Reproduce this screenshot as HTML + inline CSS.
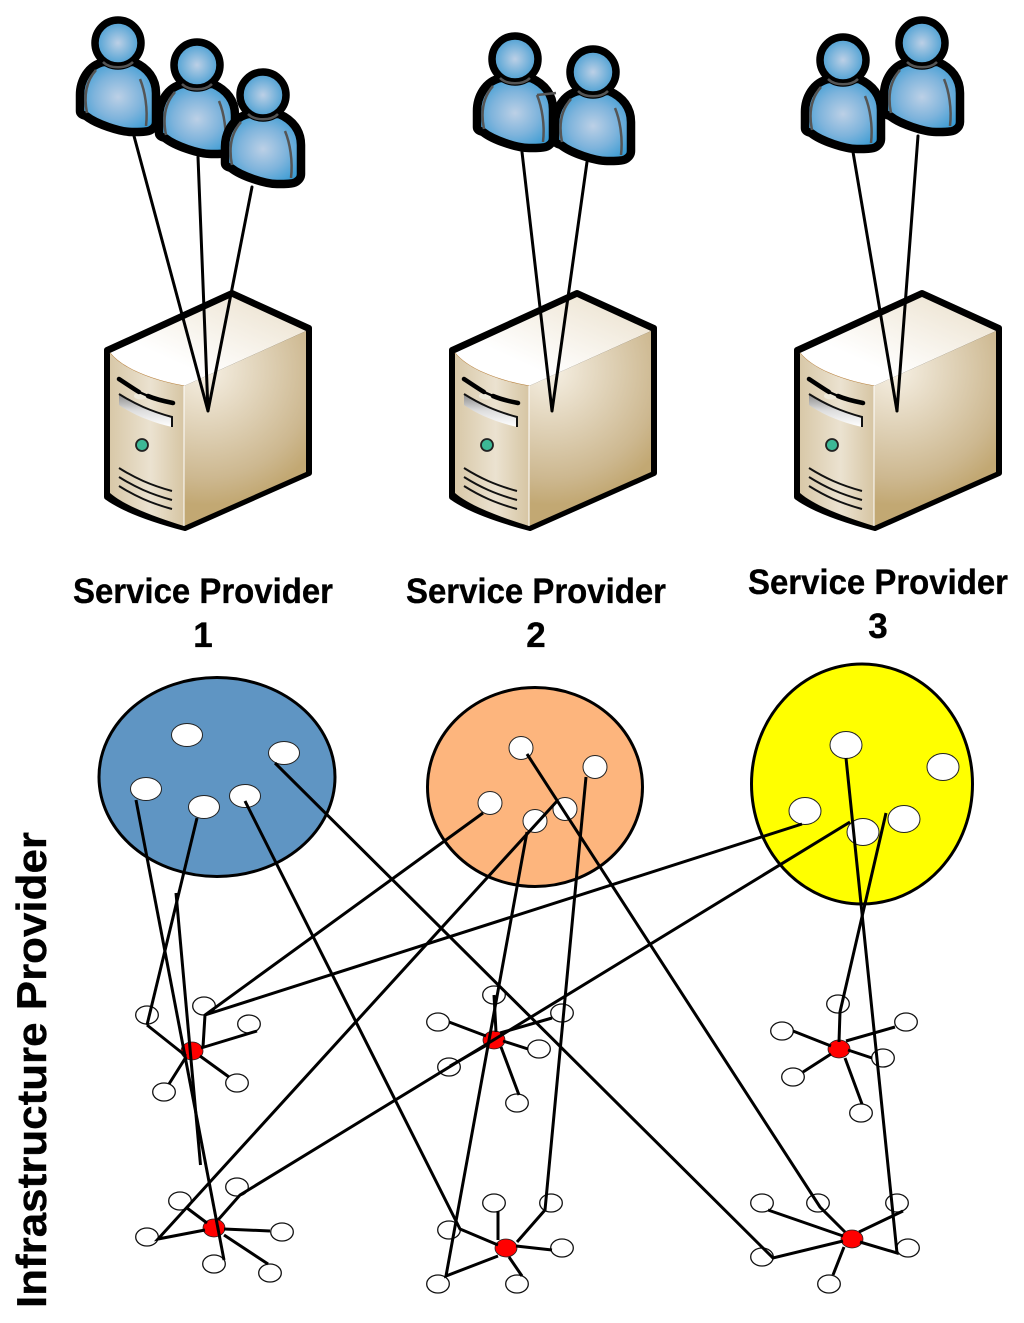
<!DOCTYPE html>
<html><head><meta charset="utf-8"><style>html,body{margin:0;padding:0;background:#fff}svg{display:block}text{font-family:"Liberation Sans",Arial,sans-serif;font-weight:bold;fill:#000;stroke:#000;stroke-width:0.35}</style></head>
<body>
<svg xmlns="http://www.w3.org/2000/svg" width="1024" height="1323" viewBox="0 0 1024 1323">
<defs>
<radialGradient id="ub" cx="0.5" cy="0.5" r="0.62"><stop offset="0" stop-color="#bcd0e6"/><stop offset="0.5" stop-color="#7fb4dc"/><stop offset="1" stop-color="#2d97d2"/></radialGradient>
<radialGradient id="uh" cx="0.5" cy="0.5" r="0.55"><stop offset="0" stop-color="#bcd0e6"/><stop offset="1" stop-color="#3a98d0"/></radialGradient>
<linearGradient id="top" x1="0" y1="1" x2="1" y2="0"><stop offset="0.3" stop-color="#ffffff"/><stop offset="1" stop-color="#eadfca"/></linearGradient>
<linearGradient id="front" x1="0" y1="0" x2="1" y2="0"><stop offset="0" stop-color="#d8c8a8"/><stop offset="0.55" stop-color="#ebe2d0"/><stop offset="1" stop-color="#d6c5a3"/></linearGradient>
<radialGradient id="right" gradientUnits="userSpaceOnUse" cx="205" cy="370" r="135"><stop offset="0" stop-color="#f6f0e4"/><stop offset="0.5" stop-color="#dccdb0"/><stop offset="0.8" stop-color="#cdb890"/><stop offset="1" stop-color="#c2a873"/></radialGradient>
<linearGradient id="bay" x1="0" y1="0" x2="0" y2="1"><stop offset="0" stop-color="#888"/><stop offset="0.5" stop-color="#ddd"/><stop offset="1" stop-color="#fff"/></linearGradient>
<g id="user">
<path d="M-14,19 C-30,22 -38,38 -38,52 L-38,68 C-38,72 -34,72 -32,73 C-22,81 2,89 14,89 C22,89 30,89 33,87 C36,85 38,83 38,79 L38,50 C38,36 30,25 16,19 Z" fill="url(#ub)" stroke="#000" stroke-width="8.5" stroke-linejoin="round"/>
<circle cx="0" cy="0" r="23" fill="url(#uh)" stroke="#000" stroke-width="7.5"/>
<path d="M-15,19 C-8,26 8,26 15,19" fill="none" stroke="#555" stroke-width="2.5"/>
<path d="M-22,27 C-30,36 -35,50 -31,70" fill="none" stroke="#555" stroke-width="2.5"/>
<path d="M22,36 C27,48 30,66 28,83" fill="none" stroke="#555" stroke-width="2.5"/>
</g>
<g id="server">
<path d="M107,350 L232,293 L309,328 L309,473 L185,528 C155,520 125,510 107,497 Z" fill="#000" stroke="#000" stroke-width="6" stroke-linejoin="round"/>
<path d="M110,353 L232,297 L306,331 L184,386 C150,380 122,368 110,353 Z" fill="url(#top)"/>
<path d="M110,353 C122,368 150,380 184,386" fill="none" stroke="#b8803c" stroke-width="1"/>
<path d="M110,353 C122,368 150,380 184,386 L184,526 C155,517 125,506 110,493 Z" fill="url(#front)"/>
<path d="M184,386 L306,331 L306,472 L184,526 Z" fill="url(#right)"/>
<path d="M184,386 L184,526" stroke="#fff" stroke-width="1"/>
<ellipse cx="141" cy="396" rx="7" ry="3.6" fill="#efeadb"/>
<path d="M119,379 C128,385 134,389 139,392 M148,396 C155,399 163,401 173,403" fill="none" stroke="#000" stroke-width="4.5" stroke-linecap="round"/>
<path d="M139,392 L148,396" stroke="#000" stroke-width="2.5"/>
<path d="M119,394 C135,404 150,411 172,417 L172,427 C150,422 132,414 119,405 Z" fill="url(#bay)"/>
<path d="M119,394 C135,404 150,411 172,417 L172,427" fill="none" stroke="#111" stroke-width="2"/>
<circle cx="142" cy="445" r="6" fill="#3cb896" stroke="#222" stroke-width="1.8"/>
<path d="M119,468 C135,478 150,485 172,491 M119,477 C135,487 150,494 172,500 M119,486 C135,496 150,503 172,509" fill="none" stroke="#111" stroke-width="2"/>
</g>
</defs>

<use href="#server"/>
<use href="#server" x="345"/>
<use href="#server" x="690"/>

<use href="#user" x="118" y="43"/>
<use href="#user" x="197" y="65"/>
<use href="#user" x="263" y="95"/>
<use href="#user" x="515" y="59"/>
<path d="M537,95 L556,93" stroke="#555" stroke-width="2.5"/>
<use href="#user" x="593" y="72"/>
<use href="#user" x="843" y="60"/>
<use href="#user" x="922" y="43"/>

<g stroke="#000" stroke-width="3" fill="none" stroke-linecap="round">
<path d="M134,136 L208,411 M198,157 L208,411 M252,187 L208,411"/>
<path d="M522,152 L552,411 M587,162 L552,411"/>
<path d="M853,152 L897,411 M918,136 L897,411"/>
</g>

<text x="73" y="603" font-size="35" textLength="260" lengthAdjust="spacingAndGlyphs">Service Provider</text>
<text x="203" y="647" font-size="35" text-anchor="middle">1</text>
<text x="406" y="603" font-size="35" textLength="260" lengthAdjust="spacingAndGlyphs">Service Provider</text>
<text x="536" y="647" font-size="35" text-anchor="middle">2</text>
<text x="748" y="594" font-size="35" textLength="260" lengthAdjust="spacingAndGlyphs">Service Provider</text>
<text x="878" y="638" font-size="35" text-anchor="middle">3</text>
<text transform="translate(46,1308) rotate(-90)" font-size="42" textLength="476" lengthAdjust="spacingAndGlyphs">Infrastructure Provider</text>

<g stroke="#000" stroke-width="3">
<ellipse cx="217" cy="777" rx="118" ry="99.5" fill="#5f95c3"/>
<ellipse cx="535" cy="787" rx="107.5" ry="99.5" fill="#fdb57d"/>
<ellipse cx="862" cy="784" rx="110.5" ry="120" fill="#ffff00"/>
</g>
<g fill="#fff" stroke="#222" stroke-width="1">
<ellipse cx="187" cy="735" rx="15.5" ry="11.5"/><ellipse cx="284" cy="753" rx="15.5" ry="11.5"/><ellipse cx="146" cy="789" rx="15.5" ry="11.5"/><ellipse cx="204" cy="807" rx="15.5" ry="11.5"/><ellipse cx="245" cy="796" rx="15.5" ry="11.5"/>
<ellipse cx="521" cy="748" rx="12" ry="11.5"/><ellipse cx="595" cy="767" rx="12" ry="11.5"/><ellipse cx="490" cy="803" rx="12" ry="11.5"/><ellipse cx="535" cy="821" rx="12" ry="11.5"/><ellipse cx="565" cy="809" rx="12" ry="11.5"/>
<ellipse cx="846" cy="745" rx="16" ry="13.5"/><ellipse cx="943" cy="767" rx="16" ry="13.5"/><ellipse cx="805" cy="811" rx="16" ry="13.5"/><ellipse cx="904" cy="819" rx="16" ry="13.5"/><ellipse cx="863" cy="832" rx="16" ry="13.5"/>
</g>

<g fill="#fff" stroke="#111" stroke-width="1.3">
<ellipse cx="147" cy="1015" rx="11.3" ry="9"/><ellipse cx="204" cy="1006" rx="11.3" ry="9"/><ellipse cx="249" cy="1024" rx="11.3" ry="9"/><ellipse cx="237" cy="1083" rx="11.3" ry="9"/><ellipse cx="164" cy="1092" rx="11.3" ry="9"/>
<ellipse cx="494" cy="995" rx="11.3" ry="9"/><ellipse cx="438" cy="1022" rx="11.3" ry="9"/><ellipse cx="562" cy="1013" rx="11.3" ry="9"/><ellipse cx="539" cy="1049" rx="11.3" ry="9"/><ellipse cx="449" cy="1067" rx="11.3" ry="9"/><ellipse cx="517" cy="1103" rx="11.3" ry="9"/>
<ellipse cx="782" cy="1031" rx="11.3" ry="9"/><ellipse cx="838" cy="1004" rx="11.3" ry="9"/><ellipse cx="906" cy="1022" rx="11.3" ry="9"/><ellipse cx="883" cy="1058" rx="11.3" ry="9"/><ellipse cx="793" cy="1077" rx="11.3" ry="9"/><ellipse cx="861" cy="1113" rx="11.3" ry="9"/>
<ellipse cx="180" cy="1201" rx="11.3" ry="9"/><ellipse cx="237" cy="1187" rx="11.3" ry="9"/><ellipse cx="282" cy="1232" rx="11.3" ry="9"/><ellipse cx="270" cy="1273" rx="11.3" ry="9"/><ellipse cx="214" cy="1264" rx="11.3" ry="9"/><ellipse cx="147" cy="1237" rx="11.3" ry="9"/>
<ellipse cx="494" cy="1203" rx="11.3" ry="9"/><ellipse cx="551" cy="1203" rx="11.3" ry="9"/><ellipse cx="562" cy="1248" rx="11.3" ry="9"/><ellipse cx="517" cy="1284" rx="11.3" ry="9"/><ellipse cx="438" cy="1284" rx="11.3" ry="9"/><ellipse cx="449" cy="1230" rx="11.3" ry="9"/>
<ellipse cx="762" cy="1203" rx="11.3" ry="9"/><ellipse cx="818" cy="1203" rx="11.3" ry="9"/><ellipse cx="897" cy="1203" rx="11.3" ry="9"/><ellipse cx="908" cy="1248" rx="11.3" ry="9"/><ellipse cx="829" cy="1284" rx="11.3" ry="9"/><ellipse cx="762" cy="1257" rx="11.3" ry="9"/>
</g>
<g fill="#f00" stroke="#222" stroke-width="0.8">
<ellipse cx="192" cy="1051" rx="11" ry="9"/><ellipse cx="494" cy="1040" rx="11" ry="9"/><ellipse cx="839" cy="1049" rx="11" ry="9"/><ellipse cx="214" cy="1228" rx="11" ry="9"/><ellipse cx="506" cy="1248" rx="11" ry="9"/><ellipse cx="852" cy="1239" rx="11" ry="9"/>
</g>

<g stroke="#000" stroke-width="3" fill="none">
<!-- spokes hub 1 -->
<path d="M147,1025 L186,1056 M257,1031 L201,1048 M229,1077 L200,1056 M169,1084 L186,1057"/>
<!-- hub 2 -->
<path d="M449,1022 L486,1036 M494,995 L496,1032 M552,1018 L500,1033 M528,1049 L503,1041 M519,1095 L501,1047 M450,1066 L487,1045"/>
<!-- hub 3 -->
<path d="M793,1031 L831,1046 M895,1027 L846,1041 M872,1058 L848,1050 M803,1072 L831,1054 M862,1104 L845,1058"/>
<!-- hub 4 -->
<path d="M187,1208 L207,1223 M270,1231 L224,1229 M268,1264 L224,1235"/>
<!-- hub 5 -->
<path d="M498,1211 L498,1240 M552,1250 L516,1246 M522,1276 L509,1257"/>
<!-- hub 6 -->
<path d="M768,1210 L843,1236 M903,1211 L859,1232 M833,1275 L844,1247"/>
<!-- blue links -->
<path d="M136,800 L224,1260"/>
<path d="M197,818 L147,1025"/>
<path d="M176,893 L200.5,1165"/>
<path d="M245,801 L460,1229 L498,1245"/>
<path d="M275,763 L773,1258 L843,1241"/>
<!-- orange links -->
<path d="M483,813 L205,1015 L203,1047"/>
<path d="M558,800 L158,1239 L205,1230"/>
<path d="M527,832 L446,1276 L498,1256"/>
<path d="M586,777 L545,1210 L517,1242"/>
<path d="M527,754 L820,1207 L845,1232"/>
<!-- yellow links -->
<path d="M802,824 L205,1015"/>
<path d="M846,758 L897,1253 L860,1242"/>
<path d="M886,813 L840,1012 L839,1042"/>
<path d="M850,822 L240,1195 L218,1220"/>
</g>
</svg>
</body></html>
